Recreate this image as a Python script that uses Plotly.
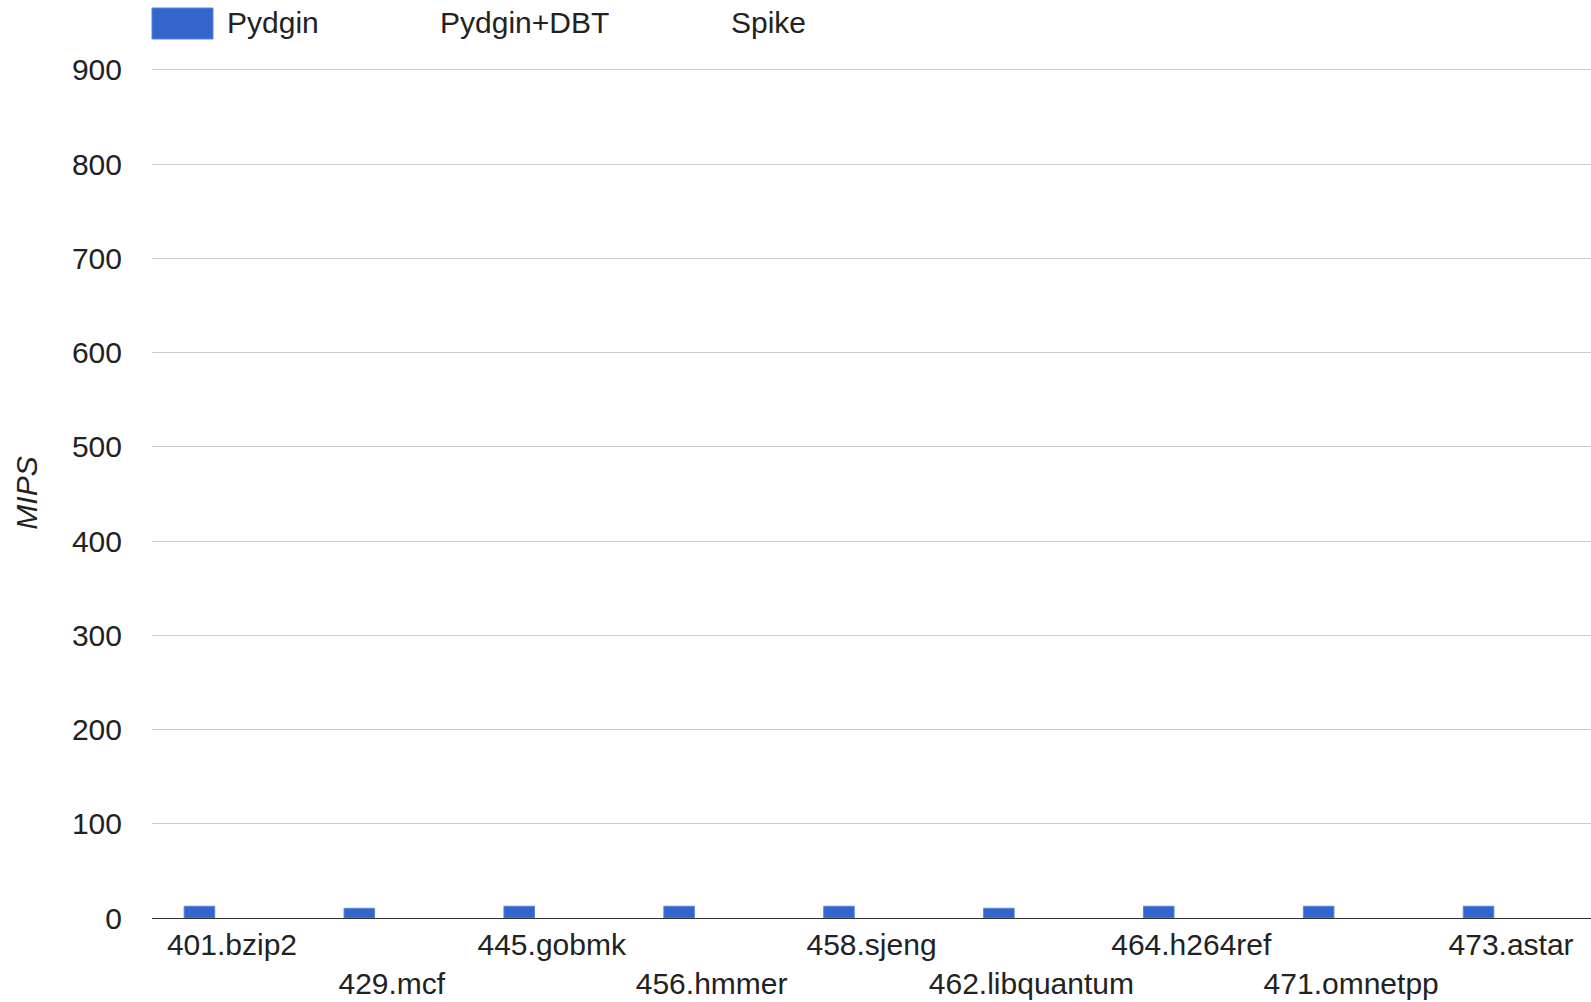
import plotly.graph_objects as go

# Benchmarks (SPEC CINT2006) and simulator throughput in MIPS
benchmarks = ["401.bzip2", "429.mcf", "445.gobmk", "456.hmmer", "458.sjeng",
              "462.libquantum", "464.h264ref", "471.omnetpp", "473.astar"]
pydgin = [12.5, 10.3, 12.5, 12.5, 12.5, 10.3, 12.5, 12.5, 12.5]
pydgin_dbt = [None] * 9
spike = [None] * 9

series_names = ["Pydgin", "Pydgin+DBT", "Spike"]
y_ticks = [0, 100, 200, 300, 400, 500, 600, 700, 800, 900]

FONT = "Liberation Sans, Arial, sans-serif"
FS = 30
TEXT = "#222222"
BLUE = "#3366CC"

# Alternate tick labels between two rows so long names don't collide
tick_text = [b if i % 2 == 0 else "<br>" + b for i, b in enumerate(benchmarks)]

fig = go.Figure()
fig.add_trace(go.Bar(name=series_names[0], x=benchmarks, y=pydgin,
                     marker=dict(color=BLUE, line=dict(color="#5c85d6", width=1))))
fig.add_trace(go.Bar(name=series_names[1], x=benchmarks, y=pydgin_dbt,
                     marker=dict(color="rgba(0,0,0,0)")))
fig.add_trace(go.Bar(name=series_names[2], x=benchmarks, y=spike,
                     marker=dict(color="rgba(0,0,0,0)")))

# a little headroom above 900 so its gridline is kept
L, R, T, B = 152, 0, 68, 84
W, H = 1591, 1002
pw, ph = W - L - R, H - T - B


def px_x(px):
    return (px - L) / pw


def px_y(py):
    return (H - B - py) / ph


# Legend: swatch for the plotted series, names for all three
fig.add_shape(type="rect", xref="paper", yref="paper",
              x0=px_x(152), x1=px_x(213), y0=px_y(39), y1=px_y(8),
              fillcolor=BLUE, line=dict(color="#5c85d6", width=1))
for name, x0 in zip(series_names, [225, 438, 729]):
    fig.add_annotation(x=px_x(x0), y=px_y(23), xref="paper", yref="paper",
                       text=name, showarrow=False, xanchor="left", yanchor="middle",
                       font=dict(family=FONT, size=FS, color=TEXT))

fig.update_layout(
    width=W, height=H,
    margin=dict(l=L, r=R, t=T, b=B, pad=0),
    paper_bgcolor="white", plot_bgcolor="white",
    barmode="group", bargap=0.39, bargroupgap=0.06,
    showlegend=False,
    font=dict(family=FONT, size=FS, color=TEXT),
    xaxis=dict(tickmode="array", tickvals=benchmarks, ticktext=tick_text,
               tickangle=0, showgrid=False, showline=False, ticks="",
               ticklabelstandoff=6, tickfont=dict(family=FONT, size=FS, color=TEXT)),
    yaxis=dict(range=[0, 902], tickvals=y_ticks, showgrid=True, gridcolor="#cccccc",
               gridwidth=1, zeroline=True, zerolinecolor="#333333", zerolinewidth=1,
               showline=False, ticks="", ticklabelstandoff=29,
               tickfont=dict(family=FONT, size=FS, color=TEXT),
               title=dict(text="<i>MIPS</i>", standoff=25,
                          font=dict(family=FONT, size=FS, color=TEXT))),
)

fig.write_html("out.html")
